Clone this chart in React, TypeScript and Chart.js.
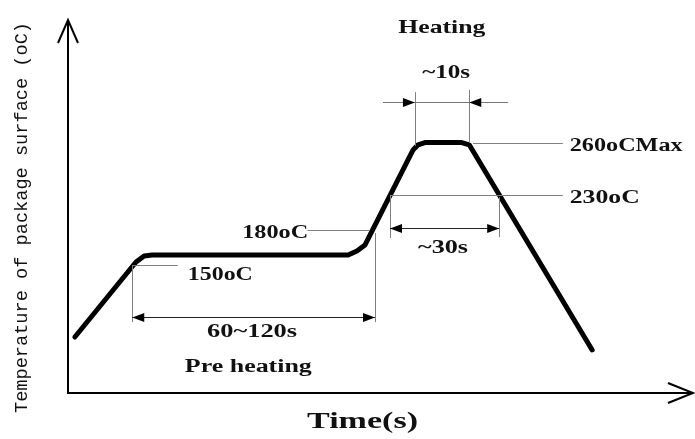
import React, { useEffect, useRef } from "react";
import { Chart, registerables } from "chart.js";

Chart.register(...registerables);

// Reflow profile (schematic units: time 0..100, temperature 0..100)
const profileTime = [1.1, 10.9, 12.2, 13.5, 44.9, 46.3, 47.6, 55.3, 56.1, 57.2, 63.1, 64.3, 84.0];
const profileTemp = [15.1, 35.3, 36.9, 37.2, 37.2, 38.3, 39.9, 65.5, 66.9, 67.5, 67.5, 66.9, 11.6];

// Temperature levels
const levelLabels = ["150oC", "180oC", "230oC", "260oCMax"];
const levelTemp = [34.5, 43.9, 53.4, 67.4];
const levelFrom = [10.3, 38.4, 51.6, 64.9];
const levelTo = [17.6, 48.4, 79.3, 79.3];

// Time spans
const spanLabels = ["60~120s", "~30s", "~10s"];
const spanFrom = [10.3, 51.6, 55.6];
const spanTo = [49.2, 69.1, 64.3];
const spanTemp = [20.5, 44.5, 78.4];

// Extension lines
const extTime = [10.3, 49.2, 51.6, 69.1, 55.6, 64.3];
const extTop = [34.5, 43.1, 53.4, 52.8, 81.1, 81.7];
const extBottom = [19.1, 19.1, 41.8, 42.0, 66.6, 67.4];

// Phase labels
const phaseLabels = ["Pre heating", "Heating"];
const phaseTime = [28.9, 59.9];
const phaseTemp = [5.7, 97.0];

const xTitle = "Time(s)";
const yTitle = "Temperature of package surface (oC)";

const SERIF = "'Liberation Serif', 'DejaVu Serif', serif";

function stretched(
  ctx: CanvasRenderingContext2D,
  text: string,
  x: number,
  y: number,
  size: number,
  width: number,
  align: CanvasTextAlign,
  family = SERIF,
  weight = "bold"
) {
  ctx.save();
  ctx.font = `${weight} ${size}px ${family}`;
  const w = ctx.measureText(text).width;
  const s = width / w;
  ctx.translate(x, y);
  ctx.scale(s, 1);
  ctx.textAlign = align;
  ctx.textBaseline = "alphabetic";
  ctx.fillStyle = "#111";
  ctx.fillText(text, 0, 0);
  ctx.restore();
}

function arrowHead(ctx: CanvasRenderingContext2D, tipX: number, y: number, dir: number) {
  // dir: -1 points left, +1 points right
  const len = 12;
  const half = 4.5;
  ctx.beginPath();
  ctx.moveTo(tipX, y);
  ctx.lineTo(tipX - dir * len, y - half);
  ctx.lineTo(tipX - dir * len, y + half);
  ctx.closePath();
  ctx.fill();
}

const annotations = {
  id: "reflowAnnotations",
  afterDatasetsDraw(chart: any) {
    const { ctx, chartArea, scales } = chart;
    const xs = scales.x;
    const ys = scales.y;
    const px = (v: number) => xs.getPixelForValue(v);
    const py = (v: number) => ys.getPixelForValue(v);
    ctx.save();

    // axes
    ctx.strokeStyle = "#000";
    ctx.lineWidth = 2;
    ctx.lineCap = "butt";
    ctx.beginPath();
    ctx.moveTo(chartArea.left, chartArea.top - 2);
    ctx.lineTo(chartArea.left, chartArea.bottom);
    ctx.lineTo(chartArea.right + 1, chartArea.bottom);
    ctx.stroke();
    ctx.beginPath();
    ctx.moveTo(chartArea.left - 10, chartArea.top + 21);
    ctx.lineTo(chartArea.left, chartArea.top - 2);
    ctx.lineTo(chartArea.left + 10, chartArea.top + 21);
    ctx.stroke();
    ctx.beginPath();
    ctx.moveTo(chartArea.right - 24, chartArea.bottom - 10);
    ctx.lineTo(chartArea.right + 1, chartArea.bottom);
    ctx.lineTo(chartArea.right - 24, chartArea.bottom + 10);
    ctx.stroke();

    // level lines
    ctx.lineWidth = 1;
    ctx.strokeStyle = "#808080";
    for (let i = 0; i < levelTemp.length; i++) {
      const y = Math.round(py(levelTemp[i])) + 0.5;
      ctx.beginPath();
      ctx.moveTo(px(levelFrom[i]), y);
      ctx.lineTo(px(levelTo[i]), y);
      ctx.stroke();
    }
    // extension lines
    for (let i = 0; i < extTime.length; i++) {
      const x = Math.round(px(extTime[i])) + 0.5;
      ctx.beginPath();
      ctx.moveTo(x, py(extTop[i]));
      ctx.lineTo(x, py(extBottom[i]));
      ctx.stroke();
    }
    // spans
    ctx.strokeStyle = "#222";
    ctx.fillStyle = "#000";
    for (let i = 0; i < spanTemp.length; i++) {
      const y = Math.round(py(spanTemp[i])) + 0.5;
      const x1 = px(spanFrom[i]);
      const x2 = px(spanTo[i]);
      ctx.beginPath();
      if (i < 2) {
        ctx.moveTo(x1, y);
        ctx.lineTo(x2, y);
        ctx.stroke();
        arrowHead(ctx, x1, y, -1);
        arrowHead(ctx, x2, y, 1);
      } else {
        ctx.strokeStyle = "#777";
        ctx.moveTo(x1 - 32, y);
        ctx.lineTo(x2 + 39, y);
        ctx.stroke();
        arrowHead(ctx, x1, y, 1);
        arrowHead(ctx, x2, y, -1);
      }
    }

    // level labels
    stretched(ctx, levelLabels[0], px(19.2), py(30.5), 18, 65, "left");
    stretched(ctx, levelLabels[1], px(38.5), py(41.8), 18, 66, "right");
    stretched(ctx, levelLabels[2], px(80.4), py(51.2), 18, 70, "left");
    stretched(ctx, levelLabels[3], px(80.4), py(65.2), 18, 113, "left");
    // span labels
    stretched(ctx, spanLabels[0], px(29.5), py(15.1), 18, 90, "center");
    stretched(ctx, spanLabels[1], px(60.1), py(37.7), 18, 50, "center");
    stretched(ctx, spanLabels[2], px(60.6), py(84.9), 18, 48, "center");
    // phases
    stretched(ctx, phaseLabels[0], px(phaseTime[0]), py(phaseTemp[0]), 18, 127, "center");
    stretched(ctx, phaseLabels[1], px(phaseTime[1]), py(phaseTemp[1]), 19, 87, "center");

    // axis titles
    stretched(ctx, xTitle, px(47.2), chartArea.bottom + 35, 23, 111, "center");
    ctx.save();
    ctx.translate(27, 217.5);
    ctx.rotate(-Math.PI / 2);
    stretched(ctx, yTitle, 0, 0, 18, 391, "center", "'Liberation Mono', 'DejaVu Sans Mono', monospace", "normal");
    ctx.restore();

    ctx.restore();
  },
};

export default function App() {
  const ref = useRef<HTMLCanvasElement | null>(null);
  useEffect(() => {
    if (!ref.current) return;
    const chart = new Chart(ref.current, {
      type: "scatter",
      data: {
        datasets: [
          {
            data: profileTime.map((t, i) => ({ x: t, y: profileTemp[i] })),
            showLine: true,
            borderColor: "#000",
            borderWidth: 5,
            pointRadius: 0,
            tension: 0,
            borderJoinStyle: "round",
            borderCapStyle: "round",
          } as any,
        ],
      },
      options: {
        responsive: false,
        animation: false,
        devicePixelRatio: 1,
        layout: { padding: { left: 68, right: 3, top: 22, bottom: 46 } },
        scales: {
          x: { type: "linear", min: 0, max: 100, display: false },
          y: { type: "linear", min: 0, max: 100, display: false },
        },
        plugins: { legend: { display: false }, tooltip: { enabled: false } },
      },
      plugins: [annotations],
    });
    return () => chart.destroy();
  }, []);
  return (
    <div style={{ position: "absolute", left: 0, top: 0, width: 695, height: 439, background: "#fff" }}>
      <canvas ref={ref} width={695} height={439} />
    </div>
  );
}
